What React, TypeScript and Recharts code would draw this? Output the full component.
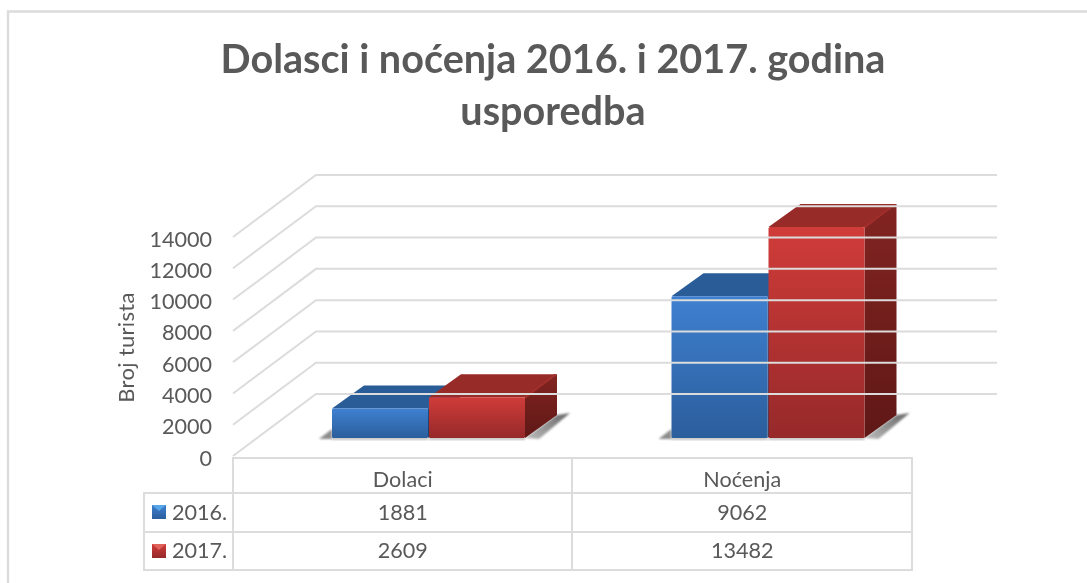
import React from "react";
import { BarChart, Bar, XAxis, YAxis } from "recharts";

const categories = ["Dolaci", "Noćenja"];
const values2016 = [1881, 9062];
const values2017 = [2609, 13482];
const seriesNames = ["2016.", "2017."];
const yTicks = [0, 2000, 4000, 6000, 8000, 10000, 12000, 14000];
const titleLines = ["Dolasci i noćenja 2016. i 2017. godina", "usporedba"];
const yAxisTitle = "Broj turista";

const chartData = categories.map((name, i) => ({
  name,
  y2016: values2016[i],
  y2017: values2017[i],
}));

const FONT = "Lato, Carlito, sans-serif";
const TEXT = "#595959";
const LINE = "#dcdcdc";
const W = 1087;
const H = 583;
const PLOT = { left: 233, right: 912, top: 237, bottom: 456 };
const TABLE = { left: 144, top: 458, rows: [493, 532, 570], mid: 572 };
const ROW_BASE = [487, 520, 558];
const BACK = { dx: 83, dy: -62, end: 997 };
const BAR_SHIFT = { dx: 26, dy: -18 };
const DEPTH = { dx: 32, dy: -23 };
const LABEL_SIZE = 21.6;

const YTick = (props: any) => {
  const { y, payload } = props;
  const fx = PLOT.left;
  const bx = fx + BACK.dx;
  const by = y + BACK.dy;
  return (
    <g>
      <polyline
        points={`${fx},${y} ${bx},${by} ${BACK.end},${by}`}
        fill="none"
        stroke={LINE}
        strokeWidth={2}
      />
      <text x={212} y={y + 9.5} textAnchor="end" fontFamily={FONT} fontSize={LABEL_SIZE} fill={TEXT}>
        {payload.value}
      </text>
    </g>
  );
};

const XTick = (props: any) => {
  const { x, payload, index } = props;
  const cells = [payload.value, values2016[index], values2017[index]];
  return (
    <g>
      {cells.map((c, i) => (
        <text key={i} x={x} y={ROW_BASE[i]} textAnchor="middle" fontFamily={FONT} fontSize={LABEL_SIZE} fill={TEXT}>
          {c}
        </text>
      ))}
    </g>
  );
};

const Box = (props: any) => {
  const { x, y, width, height, variant } = props;
  const X = x + BAR_SHIFT.dx;
  const Y = y + BAR_SHIFT.dy;
  const R = X + width;
  const B = Y + height;
  const dx = DEPTH.dx;
  const dy = DEPTH.dy;
  const blue = variant === "blue";
  return (
    <g>
      {blue ? (
        <polygon
          points={`${X - 13},${B + 1} ${X},${B - 9} ${X},${B + 1}`}
          fill="#666"
          opacity={0.75}
          filter="url(#soft)"
        />
      ) : (
        <polygon
          points={`${R},${B} ${R + dx},${B + dy} ${R + dx + 13},${B + dy - 2} ${R + 14},${B + 1}`}
          fill="url(#shadow)"
          filter="url(#soft)"
        />
      )}
      <rect x={X} y={B - 1} width={width} height={3} fill="#888" opacity={0.5} filter="url(#soft)" />
      <polygon
        points={`${X},${Y} ${X + dx},${Y + dy} ${R + dx},${Y + dy} ${R},${Y}`}
        fill={blue ? "#2a5c97" : "#972b28"}
      />
      <polygon
        points={`${R},${Y} ${R + dx},${Y + dy} ${R + dx},${B + dy} ${R},${B}`}
        fill={blue ? "url(#blueSide)" : "url(#redSide)"}
      />
      <polygon
        points={`${R - 1},${Y} ${R + dx - 3},${Y + dy} ${R + dx},${Y + dy} ${R + 1},${Y + 1}`}
        fill={blue ? "#30629f" : "#a22e2b"}
      />
      <rect
        x={X}
        y={Y}
        width={width}
        height={height}
        rx={1.5}
        fill={blue ? "url(#blueFront)" : "url(#redFront)"}
      />
    </g>
  );
};

const Swatch = ({ y, blue }: { y: number; blue: boolean }) => (
  <g>
    <rect x={152} y={y} width={14} height={14} fill={blue ? "url(#blueFront)" : "url(#redFront)"} />
    <polygon
      points={`${152},${y} ${159},${y + 6} ${166},${y}`}
      fill={blue ? "#58a6ea" : "#e0605a"}
    />
  </g>
);

const Frame = () => (
  <svg width={W} height={H} style={{ position: "absolute", left: 0, top: 0 }}>
    <polyline points={`8,${H} 8,11.5 ${W},11.5`} fill="none" stroke={LINE} strokeWidth={2.4} />
    {titleLines.map((t, i) => (
      <text
        key={t}
        x={553}
        y={73 + i * 52}
        textAnchor="middle"
        fontFamily={FONT}
        fontWeight={700}
        fontSize={39.6}
        fill={TEXT}
      >
        {t}
      </text>
    ))}
    <g fill="none" stroke={LINE} strokeWidth={2}>
      <polyline
        points={`${PLOT.left},${TABLE.rows[0]} ${PLOT.left},${TABLE.top} ${PLOT.right},${TABLE.top} ${PLOT.right},${TABLE.rows[2]} ${TABLE.left},${TABLE.rows[2]} ${TABLE.left},${TABLE.rows[0]} ${PLOT.right},${TABLE.rows[0]}`}
      />
      <line x1={TABLE.left} x2={PLOT.right} y1={TABLE.rows[1]} y2={TABLE.rows[1]} />
      <line x1={PLOT.left} x2={PLOT.left} y1={TABLE.rows[0]} y2={TABLE.rows[2]} />
      <line x1={TABLE.mid} x2={TABLE.mid} y1={TABLE.top} y2={TABLE.rows[2]} />
    </g>
    {seriesNames.map((s, i) => (
      <g key={s}>
        <Swatch y={505 + i * 39} blue={i === 0} />
        <text x={172} y={ROW_BASE[i + 1]} fontFamily={FONT} fontSize={LABEL_SIZE} fill={TEXT}>
          {s}
        </text>
      </g>
    ))}
  </svg>
);

export default function App() {
  return (
    <div style={{ position: "absolute", left: 0, top: 0, width: W, height: H, overflow: "hidden", background: "#fff", filter: "blur(0.5px)" }}>
      <Frame />
      <div style={{ position: "absolute", left: 0, top: 0 }}>
        <BarChart
          width={W}
          height={H}
          data={chartData}
          barSize={96}
          barGap={1}
          margin={{ left: 0, top: PLOT.top, right: W - PLOT.right, bottom: 0 }}
        >
          <defs>
            <linearGradient id="blueFront" x1="0" y1="0" x2="0" y2="1">
              <stop offset="0" stopColor="#3f80d0" />
              <stop offset="1" stopColor="#2b5e9c" />
            </linearGradient>
            <linearGradient id="redFront" x1="0" y1="0" x2="0" y2="1">
              <stop offset="0" stopColor="#d03c39" />
              <stop offset="1" stopColor="#96292a" />
            </linearGradient>
            <linearGradient id="blueSide" x1="0" y1="0" x2="0" y2="1">
              <stop offset="0" stopColor="#254f85" />
              <stop offset="1" stopColor="#1d3f6a" />
            </linearGradient>
            <linearGradient id="redSide" x1="0" y1="0" x2="0" y2="1">
              <stop offset="0" stopColor="#822421" />
              <stop offset="1" stopColor="#5f1816" />
            </linearGradient>
            <linearGradient id="shadow" x1="0" y1="1" x2="1" y2="0">
              <stop offset="0" stopColor="#bbbbbb" />
              <stop offset="1" stopColor="#666666" />
            </linearGradient>
            <filter id="soft" x="-20%" y="-20%" width="140%" height="140%">
              <feGaussianBlur stdDeviation="1.2" />
            </filter>
          </defs>
          <XAxis
            dataKey="name"
            height={H - PLOT.bottom}
            axisLine={false}
            tickLine={false}
            interval={0}
            tick={<XTick />}
          />
          <YAxis
            domain={[0, 14000]}
            ticks={yTicks}
            width={PLOT.left}
            axisLine={false}
            tickLine={false}
            interval={0}
            tick={<YTick />}
            label={{
              content: () => (
                <text
                  transform="translate(134,347.5) rotate(-90)"
                  textAnchor="middle"
                  fontFamily={FONT}
                  fontSize={22}
                  letterSpacing={0.3}
                  fill={TEXT}
                >
                  {yAxisTitle}
                </text>
              ),
            }}
          />
          <Bar dataKey="y2016" isAnimationActive={false} shape={<Box variant="blue" />} />
          <Bar dataKey="y2017" isAnimationActive={false} shape={<Box variant="red" />} />
        </BarChart>
      </div>
    </div>
  );
}
